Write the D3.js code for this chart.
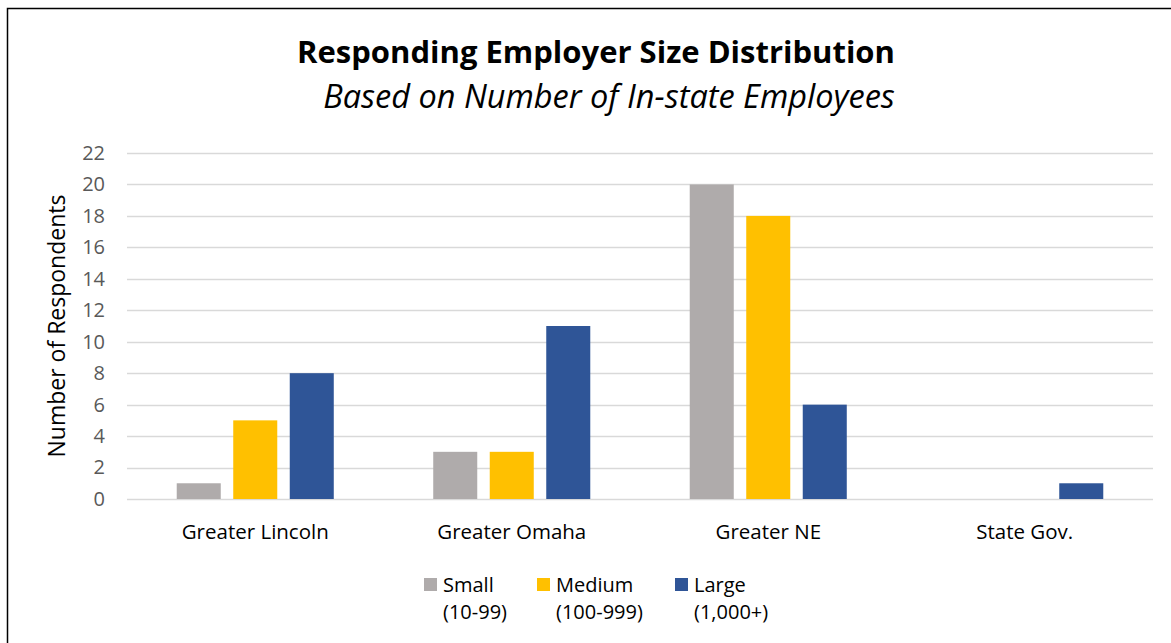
<!DOCTYPE html>
<html>
<head>
<meta charset="utf-8">
<script src="https://cdn.jsdelivr.net/npm/d3@7"></script>
<style>
  body { margin: 0; background: #fff; }
  text { font-family: "Open Sans", sans-serif; }
</style>
</head>
<body>
<script>
// chart data
var regions = ["Greater Lincoln", "Greater Omaha", "Greater NE", "State Gov."];
var sizes = ["Small", "Medium", "Large"];
var sizeRanges = ["(10-99)", "(100-999)", "(1,000+)"];
var small = [1, 3, 20, 0];
var medium = [5, 3, 18, 0];
var large = [8, 11, 6, 1];
var yTicks = [0, 2, 4, 6, 8, 10, 12, 14, 16, 18, 20, 22];

var colors = ["#AFABAB", "#FFC000", "#2F5597"];
var series = [small, medium, large];

var width = 1171,
    height = 643,
    font = "'Open Sans', sans-serif";

var svg = d3.select("body").append("svg")
    .attr("width", width)
    .attr("height", height);

// outer frame
svg.append("rect")
    .attr("x", 7.5)
    .attr("y", 8.5)
    .attr("width", width)
    .attr("height", height)
    .attr("fill", "none")
    .attr("stroke", "#000")
    .attr("stroke-width", 1.5);

// titles
svg.append("text")
    .attr("x", 596)
    .attr("y", 63)
    .attr("text-anchor", "middle")
    .style("font-size", "31px")
    .style("font-weight", "bold")
    .text("Responding Employer Size Distribution");

svg.append("text")
    .attr("x", 609)
    .attr("y", 108)
    .attr("text-anchor", "middle")
    .style("font-size", "32.5px")
    .style("font-style", "italic")
    .text("Based on Number of In-state Employees");

var x0 = d3.scaleBand()
    .domain(regions)
    .range([127, 1153]);

var x1 = d3.scaleBand()
    .domain(sizes)
    .range([0, x0.bandwidth()])
    .paddingInner(0.221)
    .paddingOuter(0.88);

var y = d3.scaleLinear()
    .domain([0, 22])
    .range([499, 153]);

// gridlines
svg.append("g")
    .selectAll("line")
    .data(yTicks)
    .enter()
    .append("line")
    .attr("x1", 127)
    .attr("x2", 1153)
    .attr("y1", d => Math.round(y(d)) + 0.5)
    .attr("y2", d => Math.round(y(d)) + 0.5)
    .attr("stroke", "#D9D9D9")
    .attr("stroke-width", 1.5);

// y axis labels
var yAxis = d3.axisLeft(y).tickValues(yTicks).tickSize(0).tickPadding(0);
var gy = svg.append("g")
    .attr("transform", "translate(105,0)")
    .call(yAxis);
gy.select(".domain").remove();
gy.selectAll("text")
    .style("font-size", "20px")
    .style("font-family", font)
    .attr("fill", "#595959");

svg.append("text")
    .attr("transform", "translate(65,326) rotate(-90)")
    .attr("text-anchor", "middle")
    .style("font-size", "23px")
    .attr("fill", "#000")
    .text("Number of Respondents");

// bars
var groups = svg.append("g")
    .selectAll("g")
    .data(regions)
    .enter()
    .append("g")
    .attr("transform", d => "translate(" + x0(d) + ",0)");

groups.selectAll("rect")
    .data((d, i) => sizes.map((s, j) => ({size: s, value: series[j][i], color: colors[j]})))
    .enter()
    .append("rect")
    .attr("x", d => x1(d.size))
    .attr("width", x1.bandwidth())
    .attr("y", d => y(d.value))
    .attr("height", d => y(0) - y(d.value))
    .attr("fill", d => d.color);

// x axis labels
var xAxis = d3.axisBottom(x0).tickSize(0).tickPadding(0);
var gx = svg.append("g")
    .attr("transform", "translate(0,524)")
    .call(xAxis);
gx.select(".domain").remove();
gx.selectAll("text")
    .style("font-size", "20.5px")
    .style("font-family", font)
    .attr("fill", "#000");

// legend
var legendX = [424, 537, 675];
var legend = svg.append("g")
    .selectAll("g")
    .data(sizes)
    .enter()
    .append("g")
    .attr("transform", (d, i) => "translate(" + legendX[i] + ",578)");

legend.append("rect")
    .attr("width", 13)
    .attr("height", 13)
    .attr("fill", (d, i) => colors[i]);

legend.append("text")
    .attr("x", 19)
    .attr("y", 14)
    .style("font-size", "20px")
    .text(d => d);

legend.append("text")
    .attr("x", 19)
    .attr("y", 41)
    .style("font-size", "20px")
    .text((d, i) => sizeRanges[i]);
</script>
</body>
</html>
